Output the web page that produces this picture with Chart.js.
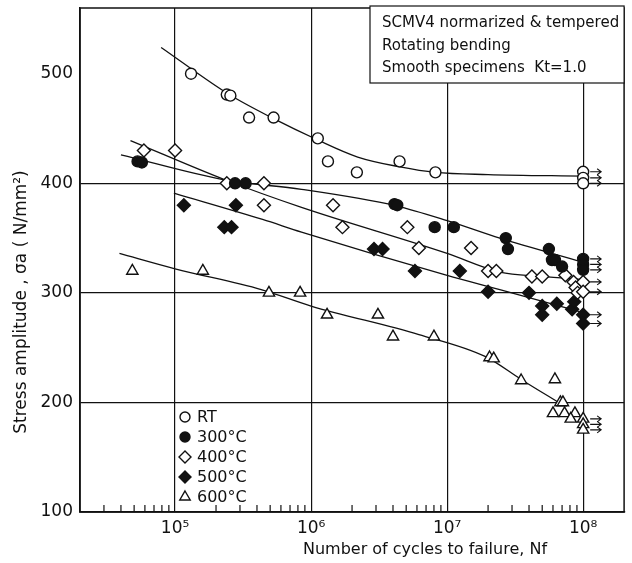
<!DOCTYPE html>
<html>
<head>
<meta charset="utf-8">
<script src="https://cdn.jsdelivr.net/npm/chart.js@4.4.1/dist/chart.umd.min.js"></script>
<style>
  html, body { margin: 0; padding: 0; background: #fff; }
  #wrap { width: 632px; height: 563px; }
</style>
</head>
<body>
<div id="wrap"><canvas id="sn-chart" width="632" height="563"></canvas></div>
<script>
// S-N data: cycles to failure and stress amplitude (N/mm2)
var rtCycles  = [1.31e5, 2.4e5, 2.55e5, 3.5e5, 5.3e5, 1.12e6, 1.33e6, 2.17e6, 4.47e6, 8.2e6, 1e8, 1e8, 1e8];
var rtStress  = [500, 481, 480, 460, 460, 441, 420, 410, 420, 410, 410.5, 405, 400];

var t300Cycles = [5.3e4, 5.7e4, 2.76e5, 3.3e5, 4.1e6, 4.3e6, 8.1e6, 1.12e7, 2.7e7, 2.8e7, 5.6e7, 5.9e7, 6.2e7, 7e7, 1e8, 1e8, 1e8];
var t300Stress = [420, 419, 400, 400, 381, 380, 360, 360, 350, 340, 340, 330, 330, 324, 331, 326, 321];

var t400Cycles = [5.9e4, 1e5, 2.4e5, 4.5e5, 4.5e5, 1.45e6, 1.7e6, 5.1e6, 6.2e6, 1.5e7, 2e7, 2.3e7, 4.2e7, 5e7, 7.4e7, 8.5e7, 8.8e7, 9.1e7, 1e8, 1e8];
var t400Stress = [430, 430, 400, 400, 380, 380, 360, 360, 341, 341, 320, 320, 315, 315, 316, 310, 305, 300, 310, 301];

var t500Cycles = [1.16e5, 2.8e5, 2.3e5, 2.6e5, 2.9e6, 3.35e6, 5.8e6, 1.24e7, 2e7, 4e7, 5e7, 5e7, 6.4e7, 8.3e7, 8.6e7, 1e8, 1e8];
var t500Stress = [380, 380, 360, 360, 340, 340, 320, 320, 301, 300, 288, 280, 290, 285, 292, 280, 272];

var t600Cycles = [4.85e4, 1.6e5, 4.9e5, 8.3e5, 1.31e6, 3.1e6, 4e6, 8e6, 2.05e7, 2.2e7, 3.5e7, 6.2e7, 6.8e7, 7.1e7, 6e7, 7.3e7, 8.7e7, 8.1e7, 1e8, 1e8, 1e8];
var t600Stress = [320, 320, 300, 300, 280, 280, 260, 260, 241, 240, 220, 221, 200, 200, 190, 190, 190, 185, 185, 180, 175];

// fitted S-N curves
var rtFitCycles   = [7.9e4, 2.5e5, 5.3e5, 1.1e6, 2.2e6, 4.5e6, 8.2e6, 2e7, 1e8];
var rtFitStress   = [524, 481, 459, 440, 424, 415, 410, 408, 406.5];
var t300FitCycles = [4e4, 2.35e5, 8.5e5, 4.2e6, 1e7, 2.44e7, 1e8];
var t300FitStress = [426, 403, 394.5, 379.5, 366, 350, 328];
var t400FitCycles = [4.7e4, 2.35e5, 8.5e5, 1e7, 2.44e7, 5e7, 1e8];
var t400FitStress = [439, 403, 378, 336, 319, 315, 312];
var t500FitCycles = [9.8e4, 4.4e5, 8.5e5, 1e7, 2.44e7, 1e8];
var t500FitStress = [391, 367, 355.5, 316, 303, 282];
var t600FitCycles = [3.9e4, 1e5, 4.3e5, 1e6, 6.2e6, 1.9e7, 3.5e7, 6.8e7];
var t600FitStress = [336, 322, 303, 288, 262, 242, 221, 199];

var xTicks = [1e5, 1e6, 1e7, 1e8];
var yTicks = [100, 200, 300, 400, 500];
var supDigits = { 5: '\u2075', 6: '\u2076', 7: '\u2077', 8: '\u2078' };

var FONT = "'DejaVu Sans', sans-serif";

function pairs(xs, ys) {
  return xs.map(function (x, i) { return { x: x, y: ys[i] }; });
}

function pointSet(label, xs, ys, style, fill, radius) {
  return {
    label: label,
    data: pairs(xs, ys),
    pointStyle: style,
    pointRadius: radius,
    pointBackgroundColor: fill,
    pointBorderColor: '#111',
    pointBorderWidth: 1.4,
    showLine: false,
    order: 0
  };
}

function fitSet(xs, ys) {
  return {
    label: 'fit',
    data: pairs(xs, ys),
    showLine: true,
    pointRadius: 0,
    borderColor: '#111',
    borderWidth: 1.3,
    cubicInterpolationMode: 'monotone',
    order: 1
  };
}

var series = [
  pointSet('RT', rtCycles, rtStress, 'circle', '#fff', 5.5),
  pointSet('300\u00b0C', t300Cycles, t300Stress, 'circle', '#111', 5.5),
  pointSet('400\u00b0C', t400Cycles, t400Stress, 'rectRot', '#fff', 6.5),
  pointSet('500\u00b0C', t500Cycles, t500Stress, 'rectRot', '#111', 6.5),
  pointSet('600\u00b0C', t600Cycles, t600Stress, 'triangle', '#fff', 6.5)
];

function drawMarker(ctx, style, fill, x, y, r) {
  ctx.beginPath();
  if (style === 'circle') {
    ctx.arc(x, y, r, 0, Math.PI * 2);
  } else if (style === 'rectRot') {
    ctx.moveTo(x, y - r); ctx.lineTo(x + r, y); ctx.lineTo(x, y + r); ctx.lineTo(x - r, y);
    ctx.closePath();
  } else {
    ctx.moveTo(x, y - r); ctx.lineTo(x + r * 0.87, y + r * 0.5); ctx.lineTo(x - r * 0.87, y + r * 0.5);
    ctx.closePath();
  }
  ctx.fillStyle = fill;
  ctx.fill();
  ctx.lineWidth = 1.4;
  ctx.strokeStyle = '#111';
  ctx.stroke();
}

var decor = {
  id: 'decor',
  beforeDatasetsDraw: function (chart) {
    var ctx = chart.ctx, xs = chart.scales.x, area = chart.chartArea;
    // minor ticks pointing up from the bottom axis
    ctx.save();
    ctx.strokeStyle = '#111';
    ctx.lineWidth = 1.2;
    for (var e = 4; e <= 8; e++) {
      for (var k = 2; k <= 9; k++) {
        var v = k * Math.pow(10, e);
        if (v <= xs.min || v >= xs.max) continue;
        var px = xs.getPixelForValue(v);
        ctx.beginPath();
        ctx.moveTo(px, area.bottom);
        ctx.lineTo(px, area.bottom - 7);
        ctx.stroke();
      }
    }
    ctx.restore();
  },
  afterDatasetsDraw: function (chart) {
    var ctx = chart.ctx, area = chart.chartArea;
    var xs = chart.scales.x, ys = chart.scales.y;
    ctx.save();

    // run-out arrows on specimens that did not fail
    ctx.strokeStyle = '#111';
    ctx.lineWidth = 1.1;
    series.forEach(function (ds) {
      ds.data.forEach(function (p) {
        if (p.x < 1e8) return;
        var px = xs.getPixelForValue(p.x) + 7, py = ys.getPixelForValue(p.y);
        ctx.beginPath();
        ctx.moveTo(px, py); ctx.lineTo(px + 11, py);
        ctx.moveTo(px + 7, py - 3); ctx.lineTo(px + 11, py); ctx.lineTo(px + 7, py + 3);
        ctx.stroke();
      });
    });

    // frame
    ctx.lineWidth = 1.5;
    ctx.strokeRect(area.left, area.top, area.right - area.left, area.bottom - area.top);

    // note box, top right
    var bx = 370, by = area.top - 2, bw = area.right - bx, bh = 83 - by;
    ctx.fillStyle = '#fff';
    ctx.fillRect(bx, by, bw, bh);
    ctx.lineWidth = 1.2;
    ctx.strokeRect(bx, by, bw, bh);
    ctx.fillStyle = '#111';
    ctx.font = '15px ' + FONT;
    ctx.textAlign = 'left';
    ctx.textBaseline = 'middle';
    ctx.fillText('SCMV4 normarized & tempered', 382, 23);
    ctx.fillText('Rotating bending', 382, 46);
    ctx.fillText('Smooth specimens  Kt=1.0', 382, 68);

    // legend, lower left inside the plot
    ctx.font = '16px ' + FONT;
    var rowY = [417, 437, 457, 477, 497];
    series.forEach(function (ds, i) {
      drawMarker(ctx, ds.pointStyle, ds.pointBackgroundColor, 185, rowY[i], ds.pointStyle === 'circle' ? 5 : 6);
      ctx.fillStyle = '#111';
      ctx.fillText(ds.label, 197, rowY[i] + 1);
    });

    // axis titles
    ctx.textAlign = 'center';
    ctx.font = '16px ' + FONT;
    ctx.fillText('Number of cycles to failure, Nf', 425, 550);
    ctx.font = '17px ' + FONT;
    ctx.translate(22, 302);
    ctx.rotate(-Math.PI / 2);
    ctx.fillText('Stress amplitude , \u03c3a ( N/mm\u00b2)', 0, 0);
    ctx.restore();
  }
};

var datasets = series.concat([
  fitSet(rtFitCycles, rtFitStress),
  fitSet(t300FitCycles, t300FitStress),
  fitSet(t400FitCycles, t400FitStress),
  fitSet(t500FitCycles, t500FitStress),
  fitSet(t600FitCycles, t600FitStress)
]);

new Chart(document.getElementById('sn-chart').getContext('2d'), {
  type: 'scatter',
  data: { datasets: datasets },
  options: {
    responsive: false,
    animation: false,
    layout: { padding: { top: 8, right: 4, left: 0, bottom: 0 } },
    plugins: { legend: { display: false }, tooltip: { enabled: false } },
    scales: {
      x: {
        type: 'logarithmic',
        min: 2e4,
        max: 2e8,
        afterBuildTicks: function (scale) {
          scale.ticks = xTicks.map(function (v) { return { value: v }; });
        },
        afterFit: function (scale) {
          scale.height = 51;
          scale.paddingLeft = 0;
          scale.paddingRight = 0;
        },
        ticks: {
          autoSkip: false,
          maxRotation: 0,
          padding: 6,
          color: '#111',
          font: { family: FONT, size: 17 },
          callback: function (v) {
            var e = Math.round(Math.log10(v));
            return '10' + (supDigits[e] || '');
          }
        },
        grid: { color: '#111', lineWidth: 1.2, drawTicks: false },
        border: { color: '#111', width: 1.5 }
      },
      y: {
        min: 100,
        max: 560,
        afterBuildTicks: function (scale) {
          scale.ticks = yTicks.map(function (v) { return { value: v }; });
        },
        afterFit: function (scale) {
          scale.width = 80;
          scale.paddingTop = 0;
          scale.paddingBottom = 0;
        },
        ticks: {
          padding: 7,
          color: '#111',
          font: { family: FONT, size: 17 }
        },
        grid: {
          drawTicks: false,
          lineWidth: 1.2,
          color: function (c) { return c.tick && c.tick.value === 500 ? 'rgba(0,0,0,0)' : '#111'; }
        },
        border: { color: '#111', width: 1.5 }
      }
    }
  },
  plugins: [decor]
});
</script>
</body>
</html>
